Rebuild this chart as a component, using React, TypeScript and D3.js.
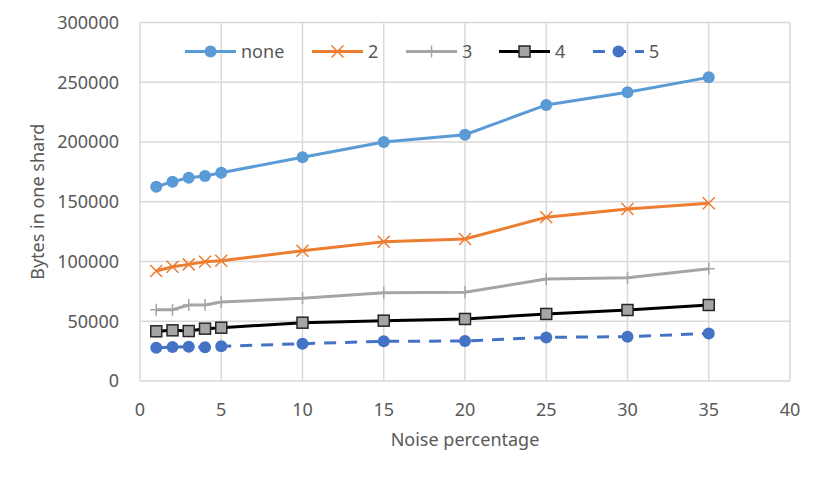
import { useEffect } from "react";
import * as d3 from "d3";

const noise = [1, 2, 3, 4, 5, 10, 15, 20, 25, 30, 35];
const seriesNames = ["none", "2", "3", "4", "5"];
const noneValues = [162600, 166800, 170100, 171500, 174300, 187200, 200000, 206100, 231000, 241600, 254100];
const twoValues = [92000, 95600, 97600, 99800, 100700, 109000, 116600, 118800, 137000, 143900, 148700];
const threeValues = [59700, 59700, 63600, 63600, 66100, 69200, 73900, 74200, 85400, 86400, 94000];
const fourValues = [41600, 42400, 41800, 43800, 44600, 48800, 50500, 51900, 56100, 59400, 63600];
const fiveValues = [27800, 28400, 28700, 28200, 29000, 31200, 33200, 33500, 36500, 37100, 39800];
const xTicks = [0, 5, 10, 15, 20, 25, 30, 35, 40];
const yTicks = [0, 50000, 100000, 150000, 200000, 250000, 300000];

const styles: Record<string, { color: string; marker: string; dash?: string }> = {
  none: { color: "#5B9BD5", marker: "circle" },
  "2": { color: "#ED7D31", marker: "x" },
  "3": { color: "#A5A5A5", marker: "plus" },
  "4": { color: "#000000", marker: "square" },
  "5": { color: "#4472C4", marker: "circle", dash: "12,9" },
};

const font = "'Noto Sans', sans-serif";

function Marker({ kind, color, x, y }: { kind: string; color: string; x: number; y: number }) {
  if (kind === "circle") return <circle cx={x} cy={y} r={6} fill={color} />;
  if (kind === "x")
    return (
      <path d={`M${x - 6},${y - 6}L${x + 6},${y + 6}M${x - 6},${y + 6}L${x + 6},${y - 6}`} stroke={color} strokeWidth={1.5} />
    );
  if (kind === "plus")
    return <path d={`M${x - 6},${y}L${x + 6},${y}M${x},${y - 6}L${x},${y + 6}`} stroke={color} strokeWidth={1.5} />;
  return <rect x={x - 5.5} y={y - 5.5} width={11} height={11} fill="#A5A5A5" stroke="#262626" strokeWidth={1.5} />;
}

export default function App() {
  useEffect(() => {
    document.body.style.margin = "0";
  }, []);

  const x = d3.scaleLinear().domain([0, 40]).range([140, 790]);
  const y = d3.scaleLinear().domain([0, 300000]).range([381, 22.5]);
  const data = [noneValues, twoValues, threeValues, fourValues, fiveValues];
  const line = d3
    .line<number>()
    .x((_, i) => x(noise[i]))
    .y((d) => y(d));

  const legendX = [185, 312, 406, 499, 593];

  return (
    <svg width={830} height={485} style={{ display: "block", background: "#fff" }}>
      {yTicks.map((t) => (
        <line key={"gy" + t} x1={x(0)} x2={x(40)} y1={y(t)} y2={y(t)} stroke="#D9D9D9" strokeWidth={1.5} />
      ))}
      {xTicks.map((t) => (
        <line key={"gx" + t} x1={x(t)} x2={x(t)} y1={y(0)} y2={y(300000)} stroke="#D9D9D9" strokeWidth={1.5} />
      ))}
      {yTicks.map((t) => (
        <text key={"ty" + t} x={119} y={y(t)} dy="0.35em" textAnchor="end" fontFamily={font} fontSize={18} fill="#595959">
          {t}
        </text>
      ))}
      {xTicks.map((t) => (
        <text key={"tx" + t} x={x(t)} y={410} dy="0.35em" textAnchor="middle" fontFamily={font} fontSize={18} fill="#595959">
          {t}
        </text>
      ))}
      <text x={465} y={440} dy="0.35em" textAnchor="middle" fontFamily={font} fontSize={18} fill="#595959">
        Noise percentage
      </text>
      <text
        transform={`translate(38,${(y(0) + y(300000)) / 2}) rotate(-90)`}
        dy="0.35em"
        textAnchor="middle"
        fontFamily={font}
        fontSize={18}
        fill="#595959"
      >
        Bytes in one shard
      </text>

      {seriesNames.map((name, si) => {
        const s = styles[name];
        return (
          <g key={name}>
            <path d={line(data[si]) ?? ""} fill="none" stroke={s.color} strokeWidth={3} strokeDasharray={s.dash} />
            {data[si].map((v, i) => (
              <Marker key={i} kind={s.marker} color={s.color} x={x(noise[i])} y={y(v)} />
            ))}
          </g>
        );
      })}

      {seriesNames.map((name, si) => {
        const s = styles[name];
        const lx = legendX[si];
        const ly = 51.5;
        return (
          <g key={"lg" + name}>
            <line x1={lx} x2={lx + 51} y1={ly} y2={ly} stroke={s.color} strokeWidth={3} strokeDasharray={s.dash ? "12,9" : undefined} />
            <Marker kind={s.marker} color={s.color} x={lx + 25.5} y={ly} />
            <text x={lx + 56} y={ly} dy="0.35em" fontFamily={font} fontSize={18} fill="#595959">
              {name}
            </text>
          </g>
        );
      })}
    </svg>
  );
}
